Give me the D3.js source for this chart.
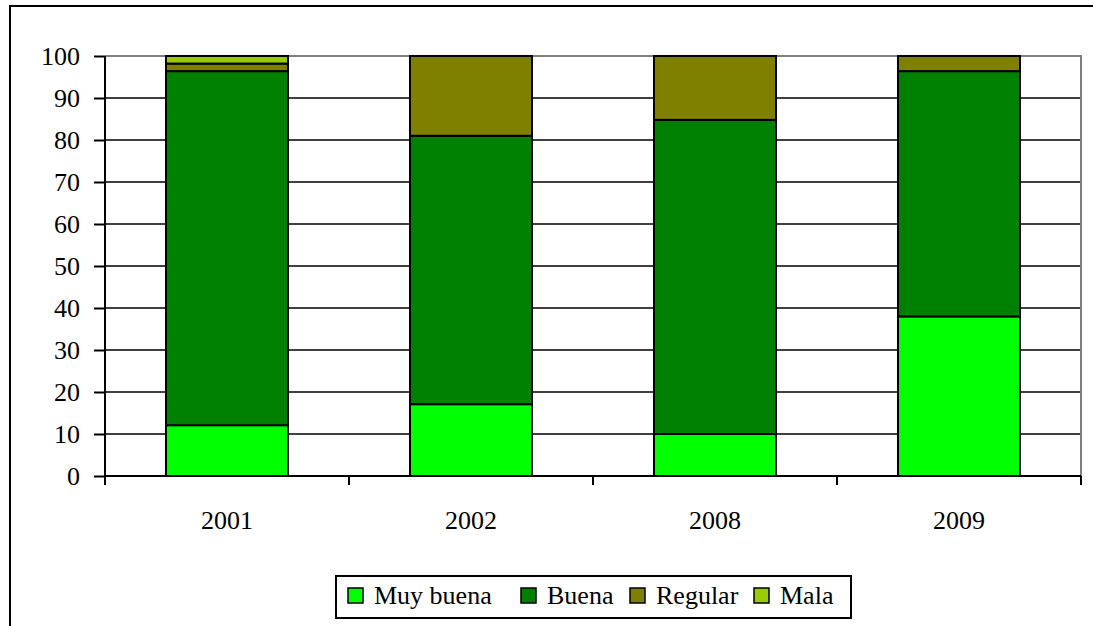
<!DOCTYPE html>
<html>
<head>
<meta charset="utf-8">
<script src="https://cdn.jsdelivr.net/npm/d3@7"></script>
<style>
  body { margin: 0; background: #fff; overflow: hidden; }
  text { font-family: "Liberation Serif", "Times New Roman", serif; }
</style>
</head>
<body>
<svg id="chart"></svg>
<script>
// calidad percibida por año

var years = ["2001", "2002", "2008", "2009"];
var series = ["Muy buena", "Buena", "Regular", "Mala"];
var muyBuena = [12.1, 17.1, 10.0, 38.0];
var buena = [84.3, 63.9, 74.8, 58.4];
var regular = [1.8, 19.0, 15.2, 3.6];
var mala = [1.8, 0, 0, 0];
var yTicks = [0, 10, 20, 30, 40, 50, 60, 70, 80, 90, 100];
var colors = ["#00ff00", "#008000", "#808000", "#99cc00"];

var width = 1093, height = 626;
var chart = d3.select("#chart").attr("width", width).attr("height", height);

var rows = years.map(function(y, i) {
  return { year: y, "Muy buena": muyBuena[i], "Buena": buena[i], "Regular": regular[i], "Mala": mala[i] };
});
var stacked = d3.stack().keys(series)(rows);

var plotLeft = 105, plotRight = 1081, plotTop = 56, plotBottom = 476;

var xscale = d3.scaleBand().domain(years).range([plotLeft, plotRight]).paddingInner(0.5).paddingOuter(0.25);
var yscale = d3.scaleLinear().domain([0, 100]).range([plotBottom, plotTop]);

// outer frame
chart.append("rect")
    .attr("x", 10).attr("y", 6).attr("width", width + 10).attr("height", height + 10)
    .style("fill", "none").style("stroke", "black").style("stroke-width", 2);

// gridlines
chart.append("g").selectAll("line").data(yTicks.slice(1, -1)).enter().append("line")
    .attr("x1", plotLeft).attr("x2", plotRight)
    .attr("y1", function(d) { return yscale(d); }).attr("y2", function(d) { return yscale(d); })
    .style("stroke", "black").style("stroke-width", 1.5);

// plot area border top/right
chart.append("path")
    .attr("d", "M" + plotLeft + "," + plotTop + "H" + plotRight + "V" + plotBottom)
    .style("fill", "none").style("stroke", "#808080").style("stroke-width", 2);

// bars
chart.append("g").selectAll("g").data(stacked).enter().append("g")
    .style("fill", function(d, i) { return colors[i]; })
  .selectAll("rect").data(function(d) { return d; }).enter().append("rect")
    .filter(function(d) { return d[1] - d[0] > 0; })
    .attr("x", function(d) { return xscale(d.data.year); })
    .attr("width", xscale.bandwidth())
    .attr("y", function(d) { return yscale(d[1]); })
    .attr("height", function(d) { return yscale(d[0]) - yscale(d[1]); })
    .style("stroke", "black").style("stroke-width", 2);

// y axis
var yAxis = chart.append("g").attr("transform", "translate(" + plotLeft + ",0)")
    .call(d3.axisLeft(yscale).tickValues(yTicks).tickSize(11).tickPadding(14));
yAxis.select(".domain").attr("d", "M0," + plotTop + "V" + (plotBottom + 8)).style("stroke-width", 2);
yAxis.selectAll(".tick line").style("stroke-width", 2);
yAxis.selectAll("text").style("font-size", "26px").style("font-family", "Liberation Serif").attr("dy", "0.34em");

// x axis
var xAxis = chart.append("g").attr("transform", "translate(0," + plotBottom + ")");
xAxis.append("line").attr("x1", plotLeft).attr("x2", plotRight)
    .style("stroke", "black").style("stroke-width", 2);
var step = (plotRight - plotLeft) / years.length;
xAxis.selectAll(".xt").data(d3.range(years.length + 1)).enter().append("line")
    .attr("x1", function(i) { return plotLeft + i * step; })
    .attr("x2", function(i) { return plotLeft + i * step; })
    .attr("y1", 0).attr("y2", 9)
    .style("stroke", "black").style("stroke-width", 2);
xAxis.selectAll("text").data(years).enter().append("text")
    .attr("x", function(d) { return xscale(d) + xscale.bandwidth() / 2; })
    .attr("y", 53)
    .attr("text-anchor", "middle")
    .style("font-size", "26px")
    .text(function(d) { return d; });

// legend
var legend = chart.append("g");
legend.append("rect").attr("x", 336).attr("y", 576).attr("width", 515).attr("height", 42)
    .style("fill", "white").style("stroke", "black").style("stroke-width", 2);
var legX = [348, 521, 630, 754];
var items = legend.selectAll(".item").data(series).enter().append("g")
    .attr("transform", function(d, i) { return "translate(" + legX[i] + ",588)"; });
items.append("rect").attr("width", 15).attr("height", 15)
    .style("fill", function(d, i) { return colors[i]; })
    .style("stroke", "black").style("stroke-width", 1.5);
items.append("text").attr("x", 26).attr("y", 16)
    .style("font-size", "26px")
    .text(function(d) { return d; });
</script>
</body>
</html>
